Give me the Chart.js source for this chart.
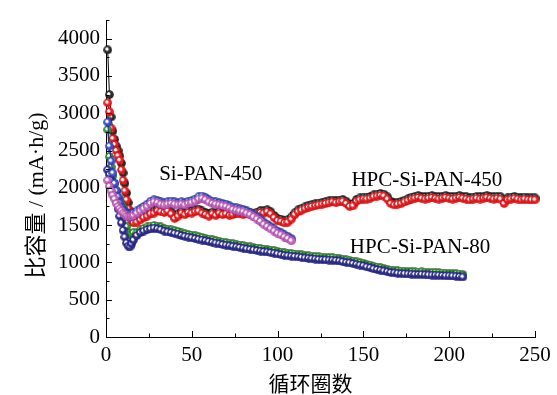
<!DOCTYPE html>
<html>
<head>
<meta charset="utf-8">
<script src="https://cdn.jsdelivr.net/npm/chart.js@4"></script>
<style>
  html, body { margin: 0; padding: 0; background: #fff; }
  canvas { display: block; }
</style>
</head>
<body>
<canvas id="myChart" width="557" height="395"></canvas>
<script>
// cycle numbers (every cycle at first, then every second cycle)
const cyclesLong = [1,2,3,4,5,6,7,8,9,10,11,12,13,14,15,16,
  18,20,22,24,26,28,30,32,34,36, 38,40,42,44,46,48,50,52,54,56,
  58,60,62,64,66,68,70,72,74,76, 78,80,82,84,86,88,90,92,94,96,
  98,100,102,104,106,108,110,112,114,116, 118,120,122,124,126,128,130,132,134,136,
  138,140,142,144,146,148,150,152,154,156, 158,160,162,164,166,168,170,172,174,176,
  178,180,182,184,186,188,190,192,194,196, 198,200,202,204,206,208,210,212,214,216,
  218,220,222,224,226,228,230,232,234,236, 238,240,242,244,246,248,250];
const cyclesMid = [1,2,3,4,5,6,7,8,9,10,11,12,13,14,15,16,
  18,20,22,24,26,28,30,32,34,36, 38,40,42,44,46,48,50,52,54,56,
  58,60,62,64,66,68,70,72,74,76, 78,80,82,84,86,88,90,92,94,96,
  98,100,102,104,106,108,110,112,114,116, 118,120,122,124,126,128,130,132,134,136,
  138,140,142,144,146,148,150,152,154,156, 158,160,162,164,166,168,170,172,174,176,
  178,180,182,184,186,188,190,192,194,196, 198,200,202,204,206,208];
const cyclesShort = [1,2,3,4,5,6,7,8,9,10,11,12,13,14,15,16,
  18,20,22,24,26,28,30,32,34,36, 38,40,42,44,46,48,50,52,54,56,
  58,60,62,64,66,68,70,72,74,76, 78,80,82,84,86,88,90,92,94,96,
  98,100,102,104,106,108];

// HPC-Si-PAN-450 (black / red)
const hpc450Black = [3850,3250,2950,2760,2650,2560,2500,2430,2330,2200,2060,1930,1800,1690,1620,1580,
  1565,1595,1625,1650,1675,1690,1715,1710,1700,1715,
  1680,1630,1650,1685,1670,1695,1690,1705,1715,1690,
  1670,1650,1675,1660,1685,1670,1675,1660,1670,1685,
  1680,1670,1685,1670,1650,1675,1695,1690,1705,1680,
  1630,1590,1580,1565,1570,1610,1665,1705,1725,1745,
  1765,1775,1785,1795,1805,1815,1825,1835,1830,1835,
  1845,1820,1780,1790,1845,1865,1875,1875,1885,1905,
  1915,1925,1915,1880,1820,1800,1805,1815,1835,1855,
  1875,1885,1895,1885,1880,1885,1895,1885,1880,1885,
  1895,1885,1880,1885,1895,1885,1880,1870,1875,1885,
  1880,1885,1895,1885,1880,1885,1880,1820,1865,1875,
  1885,1875,1870,1875,1865,1865,1865];
const hpc450Red = [3140,3020,2800,2660,2580,2500,2430,2370,2240,2100,1960,1840,1720,1620,1560,1530,
  1540,1570,1600,1620,1650,1660,1690,1680,1670,1690,
  1650,1590,1620,1660,1640,1670,1660,1680,1690,1660,
  1640,1620,1650,1630,1660,1640,1650,1630,1640,1660,
  1650,1640,1660,1640,1620,1650,1670,1660,1680,1650,
  1600,1560,1550,1530,1540,1580,1640,1680,1700,1720,
  1740,1750,1760,1770,1780,1790,1800,1810,1800,1810,
  1820,1790,1750,1760,1820,1840,1850,1850,1860,1880,
  1890,1900,1890,1850,1790,1770,1780,1790,1810,1830,
  1850,1860,1870,1860,1850,1860,1870,1860,1850,1860,
  1870,1860,1850,1860,1870,1860,1850,1840,1850,1860,
  1850,1860,1870,1860,1850,1860,1850,1790,1840,1850,
  1860,1850,1840,1850,1840,1840,1840];

// HPC-Si-PAN-80 (green / navy)
const hpc80Green = [2780,2420,2280,2160,2060,1960,1860,1800,1780,1740,1620,1480,1400,1370,1380,1400,
  1395,1435,1455,1475,1485,1495,1485,1475,1455,1445,
  1435,1425,1415,1395,1385,1375,1365,1355,1345,1335,
  1323,1313,1303,1293,1283,1273,1265,1257,1249,1241,
  1233,1223,1215,1208,1201,1193,1185,1178,1173,1165,
  1158,1148,1138,1128,1122,1118,1112,1108,1100,1093,
  1088,1083,1078,1073,1070,1068,1065,1063,1058,1053,
  1043,1033,1028,1018,1008,998,988,973,963,948,
  938,928,918,908,898,893,888,883,880,878,
  876,873,871,873,868,865,863,863,861,858,
  855,853,851,848,843,838];
const hpc80Navy = [2240,2180,2100,2020,1930,1830,1720,1620,1530,1430,1340,1260,1220,1210,1250,1300,
  1360,1400,1420,1440,1450,1460,1450,1440,1420,1410,
  1400,1390,1380,1360,1350,1340,1330,1320,1310,1300,
  1290,1280,1270,1260,1250,1240,1232,1224,1216,1208,
  1200,1190,1182,1175,1168,1160,1152,1145,1140,1132,
  1125,1115,1105,1095,1090,1085,1080,1075,1068,1060,
  1055,1050,1045,1040,1037,1035,1032,1030,1025,1020,
  1010,1000,995,985,975,965,955,940,930,915,
  905,895,885,875,865,860,855,850,848,845,
  843,840,838,840,835,832,830,830,828,825,
  822,820,818,815,810,805];

// Si-PAN-450 (blue / magenta)
const siPanBlue = [2880,2560,2360,2200,2060,1960,1880,1800,1740,1700,1680,1665,1655,1650,1655,1665,
  1690,1720,1750,1780,1820,1840,1830,1810,1800,1810,
  1820,1810,1800,1810,1800,1820,1830,1850,1880,1890,
  1870,1840,1820,1810,1800,1790,1780,1760,1740,1730,
  1720,1710,1690,1670,1640,1610,1580,1540,1510,1480,
  1450,1420,1400,1370,1350,1320];
const siPanMagenta = [2100,2020,1960,1900,1850,1790,1750,1720,1690,1660,1640,1620,1610,1615,1620,1630,
  1660,1690,1720,1750,1790,1810,1800,1780,1770,1780,
  1790,1780,1770,1780,1770,1790,1800,1820,1850,1860,
  1840,1810,1790,1780,1770,1760,1750,1730,1710,1700,
  1690,1680,1660,1640,1610,1580,1550,1510,1480,1450,
  1420,1390,1370,1340,1320,1290];

// text labels placed in data coordinates
const labelText = ['Si-PAN-450', 'HPC-Si-PAN-450', 'HPC-Si-PAN-80'];
const labelX = [61, 187, 183];
const labelY = [2185, 2100, 1200];

const xTitle = '循环圈数';
const yTitle = '比容量 / (mA·h/g)';

function makeBall(base, dark){ // small shaded ball used as the marker
    const c = document.createElement('canvas');
    c.width = 9; c.height = 9;
    const g = c.getContext('2d');
    const grad = g.createRadialGradient(3.4, 3.4, 0.2, 4.5, 4.5, 4.4);
    grad.addColorStop(0, '#ffffff');
    grad.addColorStop(0.25, '#ffffff');
    grad.addColorStop(0.45, base);
    grad.addColorStop(0.8, base);
    grad.addColorStop(1, dark);
    g.fillStyle = grad;
    g.beginPath();
    g.arc(4.5, 4.5, 4.3, 0, Math.PI * 2);
    g.fill();
    return c;
}

function toPoints(xs, ys){
    return xs.map((v, i) => ({x: v, y: ys[i]}));
}

function series(xs, ys, base, dark, order){
    return {
        data: toPoints(xs, ys),
        showLine: true,
        borderColor: dark,
        borderWidth: 1,
        tension: 0,
        pointStyle: makeBall(base, dark),
        pointRadius: 4.5,
        clip: 6,
        order: order
    };
}

const serif = '"Liberation Serif", "Times New Roman", serif';

const extras = {
    id: 'extras',
    afterDraw(chart){
        const ctx = chart.ctx;
        const x = chart.scales.x, y = chart.scales.y;
        ctx.save();
        // inward ticks
        ctx.strokeStyle = '#000';
        ctx.lineWidth = 1;
        x.ticks.forEach(t => {
            const px = Math.round(x.getPixelForValue(t.value)) + 0.5;
            const len = t.value % 50 === 0 ? 6 : 3.5;
            ctx.beginPath(); ctx.moveTo(px, y.bottom); ctx.lineTo(px, y.bottom - len); ctx.stroke();
        });
        y.ticks.forEach(t => {
            const py = Math.round(y.getPixelForValue(t.value)) + 0.5;
            const len = t.value % 500 === 0 ? 6 : 3.5;
            ctx.beginPath(); ctx.moveTo(x.left, py); ctx.lineTo(x.left + len, py); ctx.stroke();
        });
        // series labels
        ctx.fillStyle = '#000';
        ctx.textAlign = 'center';
        ctx.textBaseline = 'middle';
        ctx.font = '21px ' + serif;
        labelText.forEach((s, i) => {
            ctx.fillText(s, x.getPixelForValue(labelX[i]), y.getPixelForValue(labelY[i]));
        });
        // axis titles
        ctx.font = '21px "Noto Sans CJK SC", sans-serif';
        ctx.fillText(xTitle, (x.left + x.right) / 2 - 10, 383);
        ctx.translate(37, (y.top + y.bottom) / 2 + 17);
        ctx.rotate(-Math.PI / 2);
        ctx.font = '22px ' + serif + ', "Noto Sans CJK SC"';
        ctx.fillText(yTitle, 0, 0);
        ctx.restore();
    }
};

const CTX = document.getElementById('myChart').getContext('2d');
const CONFIG = {
    type: 'scatter',
    data: {
        datasets: [
            series(cyclesLong, hpc450Black, '#2a2a2a', '#000000', 5),
            series(cyclesLong, hpc450Red, '#ea1a1f', '#900a0a', 4),
            series(cyclesMid, hpc80Green, '#2f8f2f', '#145214', 3),
            series(cyclesMid, hpc80Navy, '#2d2d8f', '#15154f', 2),
            series(cyclesShort, siPanBlue, '#3a4fc8', '#1a237e', 1),
            series(cyclesShort, siPanMagenta, '#c462bc', '#7d2c7a', 0)
        ]
    },
    options: {
        responsive: false,
        animation: false,
        layout: { padding: { top: 20, right: 22, left: 0, bottom: 0 } },
        plugins: { legend: { display: false }, tooltip: { enabled: false } },
        scales: {
            x: {
                type: 'linear', min: 0, max: 250,
                afterFit(s){ s.height = 58; s.paddingLeft = 0; s.paddingRight = 0; },
                grid: { display: false, drawTicks: false },
                border: { display: true, color: '#000', width: 1 },
                ticks: {
                    stepSize: 25, autoSkip: false, maxRotation: 0, padding: 6, color: '#000',
                    font: { family: serif, size: 21 },
                    callback: v => v % 50 === 0 ? v : ''
                }
            },
            y: {
                type: 'linear', min: 0, max: 4250,
                afterFit(s){ s.width = 106; },
                grid: { display: false, drawTicks: false },
                border: { display: true, color: '#000', width: 1 },
                ticks: {
                    stepSize: 250, autoSkip: false, padding: 6, color: '#000',
                    font: { family: serif, size: 21 },
                    callback: v => v % 500 === 0 ? v : ''
                }
            }
        }
    },
    plugins: [extras]
};
const myChart = new Chart(CTX, CONFIG);
</script>
</body>
</html>
